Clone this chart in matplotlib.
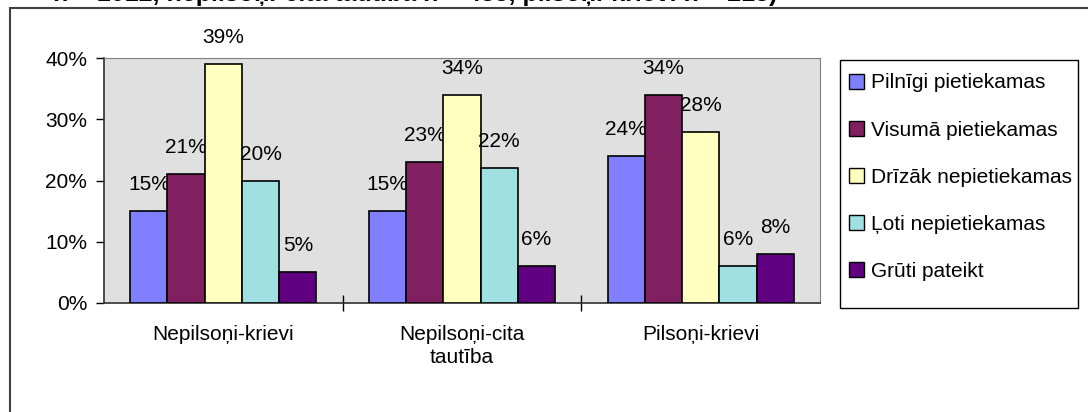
import numpy as np
import matplotlib.pyplot as plt
from matplotlib.patches import Rectangle
from matplotlib.ticker import FixedLocator, NullFormatter

plt.rcParams["font.family"] = ["Liberation Sans", "DejaVu Sans"]

# data ---------------------------------------------------------------------------------

categories = ["Nepilsoņi-krievi", "Nepilsoņi-cita\ntautība", "Pilsoņi-krievi"]
series_names = [
    "Pilnīgi pietiekamas",
    "Visumā pietiekamas",
    "Drīzāk nepietiekamas",
    "Ļoti nepietiekamas",
    "Grūti pateikt",
]
pilnigi = [15, 15, 24]
visuma = [21, 23, 34]
drizak = [39, 34, 28]
loti = [20, 22, 6]
gruti = [5, 6, 8]
y_ticks = [0, 10, 20, 30, 40]
top_text = "n = 1012, nepilsoņi-cita tautība n = 435, pilsoņi-krievi n = 213)"

# style --------------------------------------------------------------------------------

colors = ["#8080FF", "#802060", "#FFFFC0", "#A0E0E0", "#600080"]
W, H = 1088, 412
fs = 15

fig = plt.figure(figsize=(W / 100, H / 100), dpi=100)

# outer chart frame and the caption line that is cut off above it
fig.patches.append(Rectangle((10 / W, -0.1), 1.2, 1 - 8 / H + 0.1,
                             transform=fig.transFigure, fill=False,
                             edgecolor="#404040", linewidth=1.5))
fig.text(777 / W, 1 - 1 / H, top_text, fontsize=18, fontweight="bold",
         va="baseline", ha="right")

ax = fig.add_axes([104 / W, 1 - 303 / H, (820 - 104) / W, (303 - 58) / H])
ax.set_facecolor("#E0E0E0")

all_series = [pilnigi, visuma, drizak, loti, gruti]
n = len(all_series)
x = np.arange(len(categories))
bar_w = 0.78 / n

for i, (vals, name, c) in enumerate(zip(all_series, series_names, colors)):
    pos = x - 0.39 + bar_w * (i + 0.5)
    bars = ax.bar(pos, vals, bar_w, color=c, edgecolor="black", linewidth=1.2,
                  label=name, zorder=3)
    for b, v in zip(bars, vals):
        ax.annotate(f"{v}%", (b.get_x() + b.get_width() / 2, v),
                    xytext=(0, 19), textcoords="offset points",
                    ha="center", va="center", fontsize=fs, annotation_clip=False)

ax.set_xlim(-0.5, len(categories) - 0.5)
ax.set_ylim(0, 40)
ax.set_yticks(y_ticks)
ax.set_yticklabels([f"{t}%" for t in y_ticks], fontsize=fs)
ax.tick_params(axis="y", length=6, width=1, pad=6, direction="out")

ax.set_xticks(x)
ax.set_xticklabels(categories, fontsize=fs, linespacing=1.25)
ax.tick_params(axis="x", length=0, pad=16)
ax.xaxis.set_minor_locator(FixedLocator([0.5, 1.5]))
ax.xaxis.set_minor_formatter(NullFormatter())
ax.tick_params(axis="x", which="minor", length=12, width=1, direction="inout")

for s in ["top", "right"]:
    ax.spines[s].set_color("#808080")
for s in ["left", "bottom"]:
    ax.spines[s].set_color("#303030")
    ax.spines[s].set_linewidth(1.2)

# legend box drawn separately so its size matches the original
fig.patches.append(Rectangle((840 / W, 1 - 308 / H), (1078 - 840) / W, 248 / H,
                             transform=fig.transFigure, fill=False,
                             edgecolor="black", linewidth=1.0))
leg = fig.legend(loc="upper left", bbox_to_anchor=(840 / W, 1 - 64 / H),
                 fontsize=fs, frameon=False,
                 handlelength=0.72, handleheight=0.72, handletextpad=0.3,
                 labelspacing=1.35, borderpad=0.45, borderaxespad=0)
for h in leg.legend_handles:
    h.set_edgecolor("black")
    h.set_linewidth(1.0)

fig.savefig("out.png", dpi=100)
